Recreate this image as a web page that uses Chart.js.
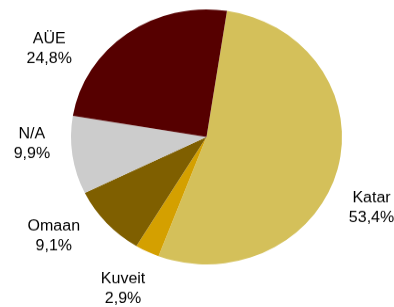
<!DOCTYPE html>
<html>
<head>
<meta charset="utf-8">
<script src="https://cdn.jsdelivr.net/npm/chart.js@4/dist/chart.umd.min.js"></script>
<style>
  html, body { margin: 0; padding: 0; background: #fff; overflow: hidden; }
  #wrap { width: 394px; height: 326px; transform: scale(1, 0.941); transform-origin: 0 0; }
</style>
</head>
<body>
<div id="wrap"><canvas id="grafico" width="394" height="326"></canvas></div>
<script>
// dados
const categorias = ["Katar", "Kuveit", "Omaan", "N/A", "AÜE"];
const valores = [53.4, 2.9, 9.1, 9.9, 24.8];
const rotulos = ["53,4%", "2,9%", "9,1%", "9,9%", "24,8%"];

// aparência
const cores = ["#d4c05a", "#d4a000", "#7f5f00", "#cccccc", "#560000"];
const desvioRotulo = [9.9, 1.4, 7.8, 5.8, -23.4];   // graus em relação ao meio da fatia
const distRotulo = [1.34, 1.34, 1.37, 1.29, 1.35];  // múltiplo do raio

// Rótulos fora da pizza (nome + percentual)
const pluginRotulos = {
  id: "rotulos",
  afterDatasetsDraw(chart) {
    const ctx = chart.ctx;
    const arcos = chart.getDatasetMeta(0).data;
    ctx.save();
    ctx.font = "16px 'Liberation Sans', Arial, sans-serif";
    ctx.fillStyle = "#000";
    ctx.textAlign = "center";
    ctx.textBaseline = "middle";
    arcos.forEach((a, i) => {
      const meio = (a.startAngle + a.endAngle) / 2 + desvioRotulo[i] * Math.PI / 180;
      const d = a.outerRadius * distRotulo[i];
      const x = a.x + d * Math.cos(meio);
      const y = a.y + d * Math.sin(meio);
      ctx.fillText(categorias[i], x, y - 10.5);
      ctx.fillText(rotulos[i], x, y + 10.5);
    });
    ctx.restore();
  }
};

new Chart(document.getElementById("grafico"), {
  type: "pie",
  data: {
    labels: categorias,
    datasets: [{ data: valores, backgroundColor: cores, borderWidth: 0 }]
  },
  options: {
    responsive: false,
    animation: false,
    rotation: 8.7,
    layout: { padding: { left: 71, right: 52, top: 10, bottom: 45 } },
    plugins: { legend: { display: false }, tooltip: { enabled: false } }
  },
  plugins: [pluginRotulos]
});
</script>
</body>
</html>
